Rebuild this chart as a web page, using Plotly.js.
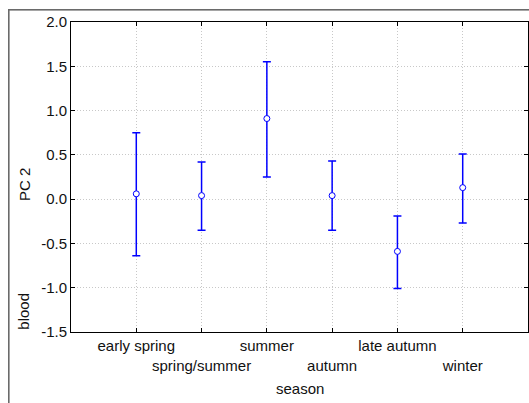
<!DOCTYPE html>
<html>
<head>
<meta charset="utf-8">
<script src="https://cdn.plot.ly/plotly-3.0.1.min.js"></script>
<style>
html,body{margin:0;padding:0;background:#fff;overflow:hidden;}
#wrap{position:relative;width:529px;height:403px;overflow:hidden;}
#chart{position:absolute;left:0;top:0;width:529px;height:403px;}
#frame{position:absolute;left:0;top:0;width:529px;height:403px;pointer-events:none;z-index:10;}
</style>
</head>
<body>
<div id="wrap">
<div id="chart"></div>
<svg id="frame" width="529" height="403" xmlns="http://www.w3.org/2000/svg">
  <rect x="8" y="9" width="521" height="1.6" fill="#6a6a6a"/>
  <rect x="8" y="9" width="1.6" height="394" fill="#6a6a6a"/>
</svg>
</div>
<script>
const seasons = ["early spring", "spring/summer", "summer", "autumn", "late autumn", "winter"];
const tickLabels = ["early spring", "<br>spring/summer", "summer", "<br>autumn", "late autumn", "<br>winter"];
const means = [0.06, 0.04, 0.91, 0.04, -0.59, 0.13];
const upper = [0.75, 0.42, 1.55, 0.43, -0.19, 0.51];
const lower = [-0.64, -0.35, 0.25, -0.35, -1.01, -0.27];
const yTicks = [-1.5, -1.0, -0.5, 0.0, 0.5, 1.0, 1.5, 2.0];

const errPlus = means.map((m, i) => +(upper[i] - m).toFixed(3));
const errMinus = means.map((m, i) => +(m - lower[i]).toFixed(3));

const font = {family: "Liberation Sans, Arial, sans-serif", size: 15, color: "#111"};

const trace = {
  type: "scatter",
  mode: "markers",
  x: seasons,
  y: means,
  marker: {symbol: "circle", size: 6, color: "#fff", line: {color: "#0000ff", width: 1}},
  error_y: {type: "data", symmetric: false, array: errPlus, arrayminus: errMinus,
            color: "#0000ff", thickness: 1.5, width: 4},
  showlegend: false,
  hoverinfo: "x+y"
};

const layout = {
  width: 529, height: 403,
  margin: {l: 71, r: 1, t: 22, b: 71},
  paper_bgcolor: "rgba(0,0,0,0)", plot_bgcolor: "#fff",
  font: font,
  xaxis: {
    type: "category", categoryarray: seasons,
    range: [-1, 6],
    tickvals: seasons, ticktext: tickLabels, tickangle: 0,
    showline: true, linecolor: "#000", linewidth: 1, mirror: "ticks",
    ticks: "inside", ticklen: 4, tickcolor: "#000",
    showgrid: true, gridcolor: "#c8c8c8", griddash: "1px,2px", gridwidth: 1,
    zeroline: false,
    tickfont: font
  },
  yaxis: {
    range: [-1.5, 2.0],
    tickvals: yTicks, ticktext: yTicks.map(v => v.toFixed(1)),
    showline: true, linecolor: "#000", linewidth: 1, mirror: "ticks",
    ticks: "inside", ticklen: 4, tickcolor: "#000",
    showgrid: true, gridcolor: "#c8c8c8", griddash: "1px,2px", gridwidth: 1,
    zeroline: false,
    tickfont: font
  },
  annotations: [
    {text: "PC 2", xref: "paper", yref: "y", x: -0.103, y: 0.17, textangle: -90,
     showarrow: false, xanchor: "center", yanchor: "middle", font: font},
    {text: "blood", xref: "paper", yref: "y", x: -0.103, y: -1.26, textangle: -90,
     showarrow: false, xanchor: "center", yanchor: "middle", font: font},
    {text: "season", xref: "paper", yref: "paper", x: 0.5, y: -0.181,
     showarrow: false, xanchor: "center", yanchor: "middle", font: font}
  ]
};

Plotly.newPlot("chart", [trace], layout, {displayModeBar: false, staticPlot: true});
</script>
</body>
</html>
